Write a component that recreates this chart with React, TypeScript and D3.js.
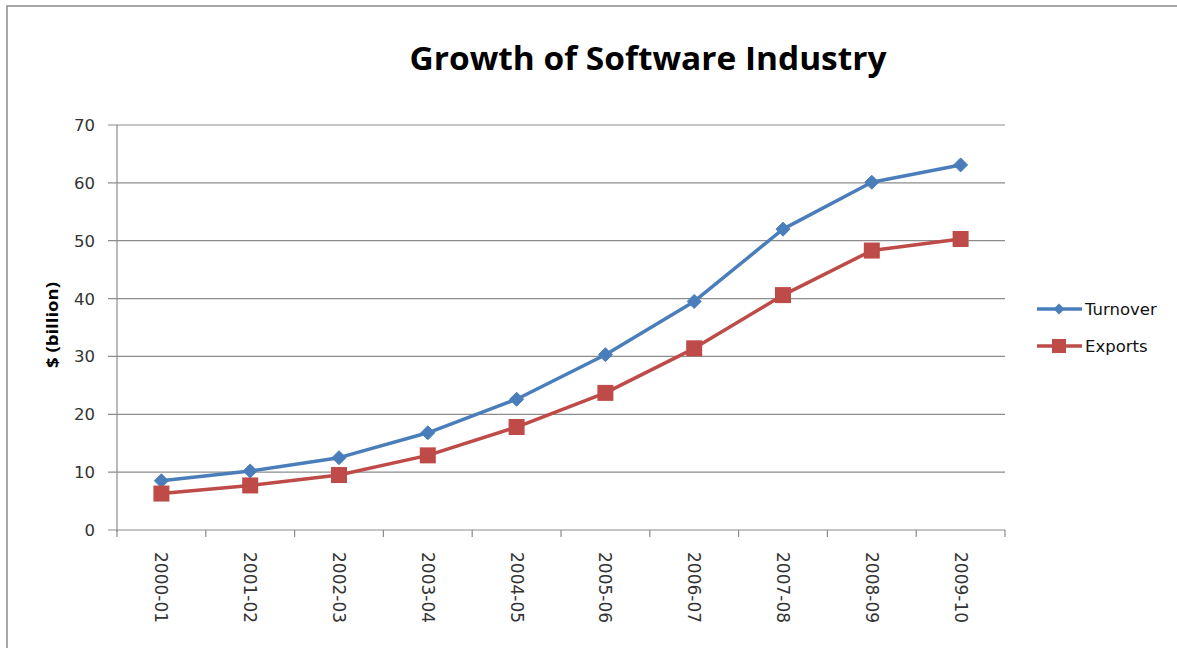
import React from "react";
import * as d3 from "d3";

const categories = ["2000-01","2001-02","2002-03","2003-04","2004-05","2005-06","2006-07","2007-08","2008-09","2009-10"];
const turnover = [8.5, 10.2, 12.5, 16.8, 22.6, 30.3, 39.5, 52.0, 60.1, 63.1];
const exportsV = [6.3, 7.7, 9.5, 12.9, 17.8, 23.7, 31.4, 40.6, 48.3, 50.3];
const yTicks = [0, 10, 20, 30, 40, 50, 60, 70];
const seriesNames = ["Turnover", "Exports"];

const W = 1177, H = 648;
const left = 117, right = 1005, top = 125, bottom = 530;

export default function App() {
  const x = d3.scaleBand<string>().domain(categories).range([left, right]);
  const y = d3.scaleLinear().domain([0, 70]).range([bottom, top]);
  const line = d3.line<number>().x((_, i) => x(categories[i])! + x.bandwidth() / 2).y(d => y(d));
  const blue = "#4a7ebb", red = "#be4b48";
  const grid = "#8c8c8c";
  const fontTick = "'DejaVu Sans', Verdana, sans-serif";
  const diamond = (cx: number, cy: number, r: number) => `M${cx},${cy - r}L${cx + r},${cy}L${cx},${cy + r}L${cx - r},${cy}Z`;
  return (
    <svg width={W} height={H} style={{ position: "absolute", left: 0, top: 0, background: "#fff" }}>
      <rect x={0} y={0} width={W} height={H} fill="#fff" />
      <rect x={7} y={6} width={W + 20} height={H + 20} fill="none" stroke="#8a8a8a" strokeWidth={1.5} />
      <text x={648} y={70} textAnchor="middle" fontFamily="'Open Sans', sans-serif" fontWeight="bold" fontSize={33} textLength={477} lengthAdjust="spacingAndGlyphs" fill="#000">Growth of Software Industry</text>
      {yTicks.map(t => (
        <g key={t}>
          <line x1={left - 9} x2={right} y1={y(t)} y2={y(t)} stroke={grid} strokeWidth={1.2} />
          <text x={95} y={y(t) + 6} textAnchor="end" fontFamily={fontTick} fontSize={16.5} fill="#333">{t}</text>
        </g>
      ))}
      <line x1={left} x2={left} y1={top} y2={bottom + 2} stroke={grid} strokeWidth={1.2} />
      {d3.range(categories.length + 1).map(i => {
        const xx = left + i * x.bandwidth();
        return <line key={i} x1={xx} x2={xx} y1={bottom} y2={bottom + 7} stroke={grid} strokeWidth={1.2} />;
      })}
      {categories.map(c => {
        const cx = x(c)! + x.bandwidth() / 2;
        return (
          <text key={c} transform={`translate(${cx - 6},552) rotate(90)`} fontFamily={fontTick} fontSize={17} fill="#333">{c}</text>
        );
      })}
      <text transform={`translate(58,325) rotate(-90)`} textAnchor="middle" fontFamily="'Open Sans', sans-serif" fontWeight="bold" fontSize={16} textLength={86} lengthAdjust="spacingAndGlyphs" fill="#000">$ (billion)</text>
      <path d={line(turnover)!} fill="none" stroke={blue} strokeWidth={3.5} strokeLinejoin="round" />
      <path d={line(exportsV)!} fill="none" stroke={red} strokeWidth={3.5} strokeLinejoin="round" />
      {turnover.map((v, i) => (
        <path key={"t" + i} d={diamond(x(categories[i])! + x.bandwidth() / 2, y(v), 7)} fill={blue} stroke={blue} strokeWidth={1} />
      ))}
      {exportsV.map((v, i) => (
        <rect key={"e" + i} x={x(categories[i])! + x.bandwidth() / 2 - 8} y={y(v) - 8} width={16} height={16} fill={red} />
      ))}
      {seriesNames.map((n, i) => {
        const ly = 309 + i * 37;
        const col = i === 0 ? blue : red;
        return (
          <g key={n}>
            <line x1={1037} x2={1082} y1={ly} y2={ly} stroke={col} strokeWidth={3.5} />
            {i === 0 ? <path d={diamond(1059, ly, 5.5)} fill={col} /> : <rect x={1052} y={ly - 7} width={14} height={14} fill={col} />}
            <text x={1085} y={ly + 6} fontFamily={fontTick} fontSize={16.5} fill="#111">{n}</text>
          </g>
        );
      })}
    </svg>
  );
}
